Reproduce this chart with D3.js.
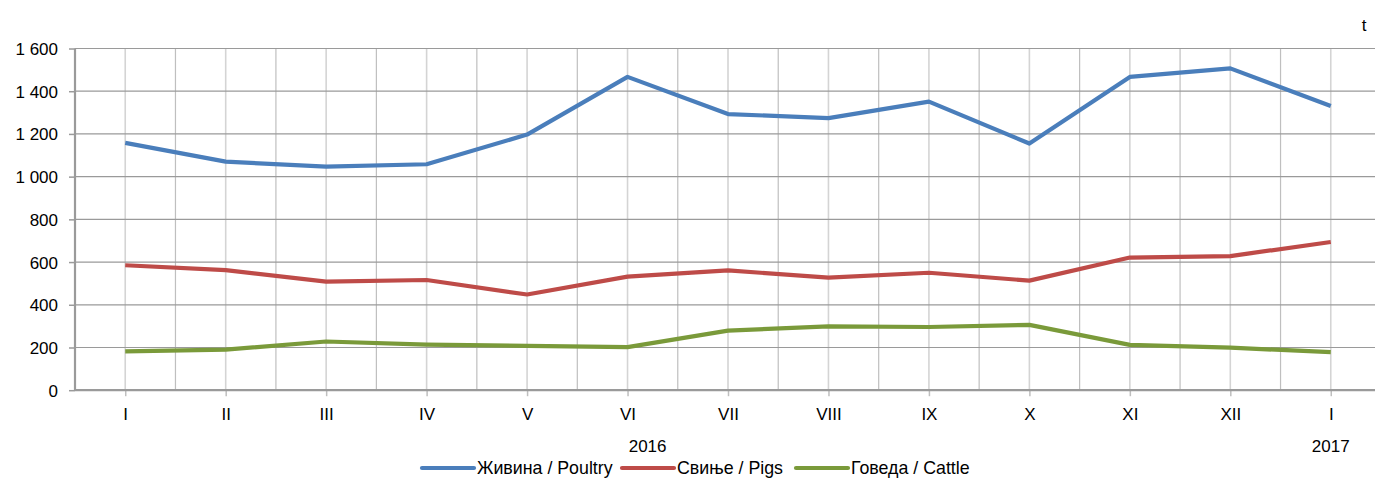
<!DOCTYPE html>
<html>
<head>
<meta charset="utf-8">
<script src="https://cdn.jsdelivr.net/npm/d3@7"></script>
<style>
    body { margin: 0; background: #fff; }
    svg text { font-family: "Liberation Sans", Arial, sans-serif; fill: #000; }
</style>
</head>
<body>
<svg></svg>
<script>
const width = 1375;
const height = 483;

// подписи месяцев и годов
const months = ["I", "II", "III", "IV", "V", "VI", "VII", "VIII", "IX", "X", "XI", "XII", "I"];
const years = [{label: "2016", at: 5.2}, {label: "2017", at: 12}];
const yTicks = [0, 200, 400, 600, 800, 1000, 1200, 1400, 1600];

// значения рядов, т
const poultry = [1158, 1070, 1047, 1058, 1197, 1467, 1293, 1274, 1351, 1155, 1467, 1507, 1331];
const pigs = [585, 562, 508, 516, 448, 532, 561, 527, 550, 513, 621, 628, 694];
const cattle = [182, 190, 228, 213, 208, 202, 279, 299, 296, 306, 212, 199, 178];

const series = [
    {name: "Живина / Poultry", values: poultry, color: "#4a7ebb"},
    {name: "Свиње / Pigs", values: pigs, color: "#be4b48"},
    {name: "Говеда / Cattle", values: cattle, color: "#7a9a3a"}
];

let marginLeft = 75;
let plotRight = 1381;
let plotTop = 48.5;
let plotBottom = 390.2;

let svg = d3.select("svg")
    .attr("width", width)
    .attr("height", height);

const idx = months.map((m, i) => i);

let scaleBand = d3.scaleBand()
    .domain(idx)
    .range([marginLeft, plotRight]);
const bw = scaleBand.bandwidth();
const cx = i => scaleBand(i) + bw / 2;

let scaleY = d3.scaleLinear()
    .domain([0, 1600])
    .range([plotBottom, plotTop]);

// вертикальная сетка: по месяцам и между ними
svg.append("g")
    .selectAll("line")
    .data(idx.slice(1))
    .enter()
    .append("line")
    .attr("x1", d => scaleBand(d)).attr("x2", d => scaleBand(d))
    .attr("y1", plotTop).attr("y2", plotBottom)
    .style("stroke", "#bfbfbf").style("stroke-width", 1.2);

svg.append("g")
    .selectAll("line")
    .data(idx)
    .enter()
    .append("line")
    .attr("x1", d => cx(d)).attr("x2", d => cx(d))
    .attr("y1", plotTop).attr("y2", plotBottom)
    .style("stroke", "#d4d4d4").style("stroke-width", 1.6);

// горизонтальная сетка
svg.append("g")
    .selectAll("line")
    .data(yTicks.slice(1))
    .enter()
    .append("line")
    .attr("x1", marginLeft).attr("x2", width)
    .attr("y1", d => scaleY(d)).attr("y2", d => scaleY(d))
    .style("stroke", "#9a9a9a").style("stroke-width", 1.2);

// ось Y
let axisY = d3.axisLeft(scaleY)
    .tickValues(yTicks)
    .tickSize(6)
    .tickPadding(11)
    .tickFormat(d => d3.format(",")(d).replace(",", " "));

let gy = svg.append("g")
    .attr("transform", `translate(${marginLeft}, 0)`)
    .call(axisY);
gy.select(".domain").remove();
gy.selectAll(".tick line").style("stroke", "#9a9a9a").style("stroke-width", 1.5);
gy.selectAll(".tick text").style("font-size", "17px").attr("dy", "0.35em");

svg.append("line")
    .attr("x1", marginLeft).attr("x2", marginLeft)
    .attr("y1", plotTop).attr("y2", plotBottom)
    .style("stroke", "#9a9a9a").style("stroke-width", 2.2);

// ось X
let scaleX = d3.scalePoint()
    .domain(idx)
    .range([cx(0), cx(idx.length - 1)]);

let axisX = d3.axisBottom(scaleX)
    .tickSize(6)
    .tickPadding(12)
    .tickFormat(d => months[d]);

let gx = svg.append("g")
    .attr("transform", `translate(0, ${plotBottom})`)
    .call(axisX);
gx.select(".domain").remove();
gx.selectAll(".tick line").style("stroke", "#bfbfbf").style("stroke-width", 1.5);
gx.selectAll(".tick text").style("font-size", "17px");

svg.append("line")
    .attr("x1", marginLeft).attr("x2", width)
    .attr("y1", plotBottom).attr("y2", plotBottom)
    .style("stroke", "#9a9a9a").style("stroke-width", 2.2);

svg.append("g")
    .selectAll("text")
    .data(years)
    .enter()
    .append("text")
    .attr("x", d => cx(0) + d.at * (scaleX.step()))
    .attr("y", 452)
    .attr("text-anchor", "middle")
    .style("font-size", "17px")
    .text(d => d.label);

svg.append("text")
    .attr("x", 1364)
    .attr("y", 31)
    .attr("text-anchor", "middle")
    .style("font-size", "17px")
    .text("t");

// линии рядов
let lineXY = d3.line()
    .x((d, i) => scaleX(i))
    .y(d => scaleY(d));

svg.append("g")
    .selectAll("path")
    .data(series)
    .enter()
    .append("path")
    .attr("d", d => lineXY(d.values))
    .style("fill", "none")
    .style("stroke", d => d.color)
    .style("stroke-width", 4.2)
    .style("stroke-linejoin", "round");

// легенда
const legendX = [422, 622, 796];
let legend = svg.append("g")
    .selectAll("g")
    .data(series)
    .enter()
    .append("g")
    .attr("transform", (d, i) => `translate(${legendX[i]}, 468)`);

legend.append("line")
    .attr("x1", 0).attr("x2", 52)
    .attr("y1", 0).attr("y2", 0)
    .style("stroke", d => d.color)
    .style("stroke-width", 4.2)
    .style("stroke-linecap", "round");

legend.append("text")
    .attr("x", 55)
    .attr("y", 0)
    .attr("dy", "0.35em")
    .style("font-size", "17.8px")
    .text(d => d.name);
</script>
</body>
</html>
